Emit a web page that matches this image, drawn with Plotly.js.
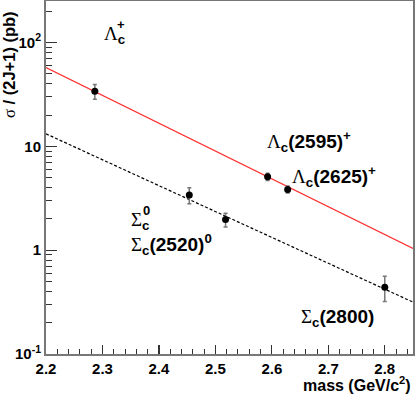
<!DOCTYPE html>
<html>
<head>
<meta charset="utf-8">
<script src="https://cdn.plot.ly/plotly-3.0.1.min.js"></script>
<style>html,body{margin:0;padding:0;background:#fff}#plot{width:415px;height:397px}</style>
</head>
<body>
<div id="plot"></div>
<script>
// Lambda_c states
const lambdaMass = [2.2865, 2.5925, 2.628];
const lambdaSigma = [34, 5.1, 3.85];
const lambdaErr = [5.5, 0.4, 0.3];
// Sigma_c states
const sigmaMass = [2.4538, 2.518, 2.80];
const sigmaSigma = [3.4, 1.97, 0.44];
const sigmaErr = [0.6, 0.3, 0.12];
// fit lines (end points)
const fitMass = [2.2, 2.85];
const lambdaFit = [57.5, 1.04];
const sigmaFit = [13.2, 0.316];
// y tick labels
const yTickVals = [0.1, 1, 10, 100];
const yTickText = ['10<sup>-1</sup>', '1', '10', '10<sup>2</sup>'];

const minorY = [];
for (let d = -1; d <= 2; d++) for (let k = 2; k <= 9; k++) minorY.push(k * Math.pow(10, d));

const SANS = 'Liberation Sans, Arial, Helvetica, sans-serif';
const SERIF = 'Liberation Serif';
const G = (ch) => "<span style='font-family:" + SERIF + ";font-weight:normal'>" + ch + "</span>";

const traces = [
  {x: fitMass, y: lambdaFit, mode: 'lines', line: {color: '#ff3030', width: 1.2}, hoverinfo: 'skip'},
  {x: fitMass, y: sigmaFit, mode: 'lines', line: {color: '#000', width: 1.2, dash: '3px,2px'}, hoverinfo: 'skip'},
  {x: lambdaMass, y: lambdaSigma, mode: 'markers', marker: {color: '#000', size: 7},
   error_y: {type: 'data', array: lambdaErr, color: '#777', thickness: 1.5, width: 2}},
  {x: sigmaMass, y: sigmaSigma, mode: 'markers', marker: {color: '#000', size: 7},
   error_y: {type: 'data', array: sigmaErr, color: '#777', thickness: 1.5, width: 2}}
];

const labFont = {family: SANS, size: 19, color: '#000', weight: 'bold'};
const supFont = {family: SANS, size: 13, color: '#000', weight: 'bold'};
function ann(text, x, y, extra) {
  return Object.assign({text: text, xref: 'paper', yref: 'paper', x: x, y: y, xanchor: 'left', yanchor: 'middle',
    showarrow: false, font: labFont}, extra || {});
}

const layout = {
  width: 415, height: 397,
  margin: {l: 46, r: 2, t: 1, b: 43},
  paper_bgcolor: '#fff', plot_bgcolor: '#fff',
  showlegend: false,
  xaxis: {
    range: [2.2, 2.85], tick0: 2.2, dtick: 0.1, ticks: 'inside', ticklen: 9, tickwidth: 1.2, tickcolor: '#333',
    showgrid: false, zeroline: false, showline: true, mirror: true, linecolor: '#777', linewidth: 2,
    tickfont: {family: SANS, size: 15, color: '#000', weight: 'bold'},
    minor: {dtick: 0.02, ticks: 'inside', ticklen: 5, tickwidth: 1, tickcolor: '#333', showgrid: false}
  },
  yaxis: {
    type: 'log', range: [-1, 2.4], tickmode: 'array', tickvals: yTickVals, ticktext: yTickText,
    ticks: 'inside', ticklen: 11, tickwidth: 1.2, tickcolor: '#333',
    showgrid: false, zeroline: false, showline: true, mirror: true, linecolor: '#777', linewidth: 2,
    tickfont: {family: SANS, size: 15, color: '#000', weight: 'bold'},
    minor: {tickmode: 'array', tickvals: minorY, ticks: 'inside', ticklen: 6, tickwidth: 1, tickcolor: '#333', showgrid: false}
  },
  annotations: [
    ann(G('Λ') + '<sub>c</sub>', 0.152, 0.905),
    ann('+', 0.2054, 0.933, {xanchor: 'center', font: supFont}),
    ann(G('Λ') + '<sub>c</sub>(2595)<sup>+</sup>', 0.598, 0.603),
    ann(G('Λ') + '<sub>c</sub>(2625)<sup>+</sup>', 0.664, 0.503),
    ann(G('Σ') + '<sub>c</sub>', 0.227, 0.378),
    ann('0', 0.274, 0.4065, {xanchor: 'center', font: supFont}),
    ann(G('Σ') + '<sub>c</sub>(2520)<sup>0</sup>', 0.227, 0.3116),
    ann(G('Σ') + '<sub>c</sub>(2800)', 0.690, 0.102),
    {text: 'mass (GeV/c<sup>2</sup>)', xref: 'paper', yref: 'paper', x: 1, y: -0.085, xanchor: 'right', yanchor: 'middle',
     showarrow: false, font: {family: SANS, size: 16, color: '#000', weight: 'bold'}},
    {text: G('σ') + ' / (2J+1) (pb)', xref: 'paper', yref: 'paper', x: -0.099, y: 0.978, xanchor: 'center', yanchor: 'top',
     textangle: -90, showarrow: false, font: {family: SANS, size: 16.5, color: '#000', weight: 'bold'}}
  ]
};

Plotly.newPlot('plot', traces, layout, {displayModeBar: false, staticPlot: true});
</script>
</body>
</html>
